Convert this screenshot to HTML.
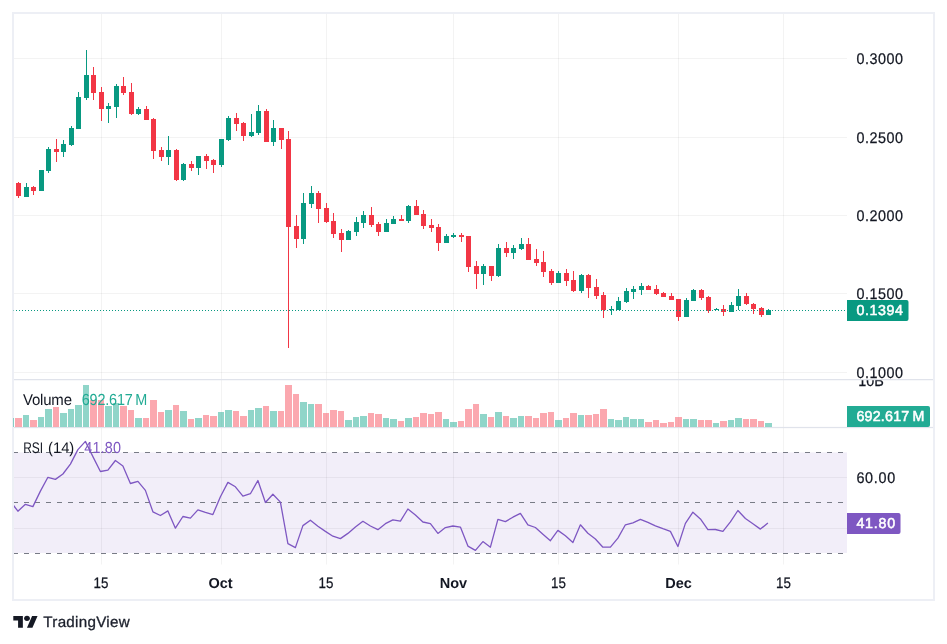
<!DOCTYPE html>
<html lang="en"><head><meta charset="utf-8"><title>TradingView chart</title>
<style>html,body{margin:0;padding:0;background:#fff}body{width:947px;height:644px;position:relative;overflow:hidden;font-family:"Liberation Sans",Arial,sans-serif}</style></head>
<body>
<svg width="947" height="644" viewBox="0 0 947 644" style="position:absolute;left:0;top:0">
<rect x="13.8" y="452.4" width="833.2" height="100.6" fill="#f2eef9"/>
<g><rect x="13.8" y="58" width="833.2" height="1" fill="rgba(10,20,20,0.052)"/><rect x="13.8" y="137" width="833.2" height="1" fill="rgba(10,20,20,0.052)"/><rect x="13.8" y="215" width="833.2" height="1" fill="rgba(10,20,20,0.052)"/><rect x="13.8" y="293" width="833.2" height="1" fill="rgba(10,20,20,0.052)"/><rect x="13.8" y="372" width="833.2" height="1" fill="rgba(10,20,20,0.052)"/><rect x="13.8" y="477" width="833.2" height="1" fill="rgba(10,20,20,0.052)"/><rect x="13.8" y="528" width="833.2" height="1" fill="rgba(10,20,20,0.052)"/><rect x="101" y="13.8" width="1" height="550.7" fill="rgba(10,20,20,0.052)"/><rect x="221" y="13.8" width="1" height="550.7" fill="rgba(10,20,20,0.052)"/><rect x="326" y="13.8" width="1" height="550.7" fill="rgba(10,20,20,0.052)"/><rect x="453" y="13.8" width="1" height="550.7" fill="rgba(10,20,20,0.052)"/><rect x="558" y="13.8" width="1" height="550.7" fill="rgba(10,20,20,0.052)"/><rect x="678" y="13.8" width="1" height="550.7" fill="rgba(10,20,20,0.052)"/><rect x="783" y="13.8" width="1" height="550.7" fill="rgba(10,20,20,0.052)"/></g>
<rect x="13.8" y="379" width="920" height="1.25" fill="#e0e3eb"/>
<rect x="13.8" y="426.9" width="920" height="1.25" fill="#e0e3eb"/>
<g shape-rendering="crispEdges"><rect x="15" y="418" width="7" height="9" fill="rgba(247,82,95,0.5)"/><rect x="23" y="415" width="6" height="12" fill="rgba(34,171,148,0.5)"/><rect x="30" y="420" width="7" height="7" fill="rgba(247,82,95,0.5)"/><rect x="38" y="417" width="6" height="10" fill="rgba(34,171,148,0.5)"/><rect x="45" y="409" width="7" height="18" fill="rgba(34,171,148,0.5)"/><rect x="53" y="407" width="6" height="20" fill="rgba(247,82,95,0.5)"/><rect x="60" y="413" width="7" height="14" fill="rgba(34,171,148,0.5)"/><rect x="68" y="409" width="6" height="18" fill="rgba(34,171,148,0.5)"/><rect x="75" y="405" width="7" height="22" fill="rgba(34,171,148,0.5)"/><rect x="83" y="385" width="6" height="42" fill="rgba(34,171,148,0.5)"/><rect x="90" y="400" width="7" height="27" fill="rgba(247,82,95,0.5)"/><rect x="98" y="400" width="6" height="27" fill="rgba(247,82,95,0.5)"/><rect x="105" y="406" width="7" height="21" fill="rgba(34,171,148,0.5)"/><rect x="113" y="403" width="6" height="24" fill="rgba(34,171,148,0.5)"/><rect x="120" y="406" width="7" height="21" fill="rgba(247,82,95,0.5)"/><rect x="128" y="410" width="6" height="17" fill="rgba(247,82,95,0.5)"/><rect x="135" y="418" width="7" height="9" fill="rgba(34,171,148,0.5)"/><rect x="143" y="418" width="6" height="9" fill="rgba(247,82,95,0.5)"/><rect x="150" y="400" width="7" height="27" fill="rgba(247,82,95,0.5)"/><rect x="158" y="412" width="6" height="15" fill="rgba(247,82,95,0.5)"/><rect x="165" y="410" width="7" height="17" fill="rgba(34,171,148,0.5)"/><rect x="173" y="405" width="6" height="22" fill="rgba(247,82,95,0.5)"/><rect x="180" y="411" width="7" height="16" fill="rgba(34,171,148,0.5)"/><rect x="188" y="419" width="6" height="8" fill="rgba(247,82,95,0.5)"/><rect x="195" y="418" width="7" height="9" fill="rgba(34,171,148,0.5)"/><rect x="203" y="415" width="6" height="12" fill="rgba(247,82,95,0.5)"/><rect x="210" y="416" width="7" height="11" fill="rgba(247,82,95,0.5)"/><rect x="218" y="412" width="6" height="15" fill="rgba(34,171,148,0.5)"/><rect x="225" y="410" width="7" height="17" fill="rgba(34,171,148,0.5)"/><rect x="233" y="411" width="6" height="16" fill="rgba(247,82,95,0.5)"/><rect x="240" y="416" width="7" height="11" fill="rgba(247,82,95,0.5)"/><rect x="248" y="410" width="6" height="17" fill="rgba(34,171,148,0.5)"/><rect x="255" y="408" width="7" height="19" fill="rgba(34,171,148,0.5)"/><rect x="263" y="406" width="6" height="21" fill="rgba(247,82,95,0.5)"/><rect x="270" y="411" width="7" height="16" fill="rgba(34,171,148,0.5)"/><rect x="278" y="411" width="6" height="16" fill="rgba(247,82,95,0.5)"/><rect x="285" y="385" width="7" height="42" fill="rgba(247,82,95,0.5)"/><rect x="293" y="394" width="6" height="33" fill="rgba(247,82,95,0.5)"/><rect x="300" y="402" width="7" height="25" fill="rgba(34,171,148,0.5)"/><rect x="308" y="404" width="6" height="23" fill="rgba(34,171,148,0.5)"/><rect x="315" y="404" width="7" height="23" fill="rgba(247,82,95,0.5)"/><rect x="323" y="413" width="6" height="14" fill="rgba(247,82,95,0.5)"/><rect x="330" y="410" width="7" height="17" fill="rgba(247,82,95,0.5)"/><rect x="338" y="411" width="6" height="16" fill="rgba(247,82,95,0.5)"/><rect x="345" y="420" width="7" height="7" fill="rgba(34,171,148,0.5)"/><rect x="353" y="417" width="6" height="10" fill="rgba(34,171,148,0.5)"/><rect x="360" y="416" width="7" height="11" fill="rgba(34,171,148,0.5)"/><rect x="368" y="413" width="6" height="14" fill="rgba(247,82,95,0.5)"/><rect x="375" y="414" width="7" height="13" fill="rgba(247,82,95,0.5)"/><rect x="383" y="418" width="6" height="9" fill="rgba(34,171,148,0.5)"/><rect x="390" y="419" width="7" height="8" fill="rgba(34,171,148,0.5)"/><rect x="398" y="421" width="6" height="6" fill="rgba(247,82,95,0.5)"/><rect x="405" y="418" width="7" height="9" fill="rgba(34,171,148,0.5)"/><rect x="413" y="417" width="6" height="10" fill="rgba(247,82,95,0.5)"/><rect x="420" y="413" width="7" height="14" fill="rgba(247,82,95,0.5)"/><rect x="428" y="414" width="6" height="13" fill="rgba(247,82,95,0.5)"/><rect x="435" y="412" width="7" height="15" fill="rgba(247,82,95,0.5)"/><rect x="443" y="419" width="6" height="8" fill="rgba(34,171,148,0.5)"/><rect x="450" y="422" width="7" height="5" fill="rgba(34,171,148,0.5)"/><rect x="458" y="421" width="6" height="6" fill="rgba(247,82,95,0.5)"/><rect x="465" y="409" width="7" height="18" fill="rgba(247,82,95,0.5)"/><rect x="473" y="404" width="6" height="23" fill="rgba(247,82,95,0.5)"/><rect x="480" y="414" width="7" height="13" fill="rgba(34,171,148,0.5)"/><rect x="488" y="417" width="6" height="10" fill="rgba(247,82,95,0.5)"/><rect x="495" y="412" width="7" height="15" fill="rgba(34,171,148,0.5)"/><rect x="503" y="416" width="6" height="11" fill="rgba(247,82,95,0.5)"/><rect x="510" y="418" width="7" height="9" fill="rgba(34,171,148,0.5)"/><rect x="518" y="416" width="6" height="11" fill="rgba(34,171,148,0.5)"/><rect x="525" y="416" width="7" height="11" fill="rgba(247,82,95,0.5)"/><rect x="533" y="418" width="6" height="9" fill="rgba(247,82,95,0.5)"/><rect x="540" y="413" width="7" height="14" fill="rgba(247,82,95,0.5)"/><rect x="548" y="412" width="6" height="15" fill="rgba(247,82,95,0.5)"/><rect x="555" y="420" width="7" height="7" fill="rgba(34,171,148,0.5)"/><rect x="563" y="418" width="6" height="9" fill="rgba(247,82,95,0.5)"/><rect x="570" y="413" width="7" height="14" fill="rgba(247,82,95,0.5)"/><rect x="578" y="415" width="6" height="12" fill="rgba(34,171,148,0.5)"/><rect x="585" y="415" width="7" height="12" fill="rgba(247,82,95,0.5)"/><rect x="593" y="414" width="6" height="13" fill="rgba(247,82,95,0.5)"/><rect x="600" y="409" width="7" height="18" fill="rgba(247,82,95,0.5)"/><rect x="608" y="419" width="6" height="8" fill="rgba(34,171,148,0.5)"/><rect x="615" y="420" width="7" height="7" fill="rgba(34,171,148,0.5)"/><rect x="623" y="417" width="6" height="10" fill="rgba(34,171,148,0.5)"/><rect x="630" y="419" width="7" height="8" fill="rgba(34,171,148,0.5)"/><rect x="638" y="419" width="6" height="8" fill="rgba(34,171,148,0.5)"/><rect x="645" y="422" width="7" height="5" fill="rgba(247,82,95,0.5)"/><rect x="653" y="420" width="6" height="7" fill="rgba(247,82,95,0.5)"/><rect x="660" y="423" width="7" height="4" fill="rgba(247,82,95,0.5)"/><rect x="668" y="422" width="6" height="5" fill="rgba(247,82,95,0.5)"/><rect x="675" y="417" width="7" height="10" fill="rgba(247,82,95,0.5)"/><rect x="683" y="419" width="6" height="8" fill="rgba(34,171,148,0.5)"/><rect x="690" y="419" width="7" height="8" fill="rgba(34,171,148,0.5)"/><rect x="698" y="420" width="6" height="7" fill="rgba(247,82,95,0.5)"/><rect x="705" y="420" width="7" height="7" fill="rgba(247,82,95,0.5)"/><rect x="713" y="423" width="6" height="4" fill="rgba(34,171,148,0.5)"/><rect x="720" y="421" width="7" height="6" fill="rgba(247,82,95,0.5)"/><rect x="728" y="420" width="6" height="7" fill="rgba(34,171,148,0.5)"/><rect x="735" y="418" width="7" height="9" fill="rgba(34,171,148,0.5)"/><rect x="743" y="419" width="6" height="8" fill="rgba(247,82,95,0.5)"/><rect x="750" y="419" width="7" height="8" fill="rgba(247,82,95,0.5)"/><rect x="758" y="421" width="6" height="6" fill="rgba(247,82,95,0.5)"/><rect x="765" y="423" width="7" height="4" fill="rgba(34,171,148,0.5)"/></g>
<g shape-rendering="crispEdges"><rect x="18" y="182" width="1" height="16" fill="#f23645"/><rect x="16" y="183" width="5" height="13" fill="#f23645"/><rect x="26" y="183" width="1" height="14" fill="#089981"/><rect x="24" y="187" width="5" height="10" fill="#089981"/><rect x="33" y="186" width="1" height="9" fill="#f23645"/><rect x="31" y="187" width="5" height="4" fill="#f23645"/><rect x="41" y="170" width="1" height="21" fill="#089981"/><rect x="39" y="170" width="5" height="21" fill="#089981"/><rect x="48" y="147" width="1" height="26" fill="#089981"/><rect x="46" y="149" width="5" height="22" fill="#089981"/><rect x="56" y="139" width="1" height="23" fill="#f23645"/><rect x="54" y="149" width="5" height="3" fill="#f23645"/><rect x="63" y="140" width="1" height="17" fill="#089981"/><rect x="61" y="144" width="5" height="8" fill="#089981"/><rect x="71" y="126" width="1" height="20" fill="#089981"/><rect x="69" y="128" width="5" height="17" fill="#089981"/><rect x="78" y="92" width="1" height="37" fill="#089981"/><rect x="76" y="97" width="5" height="32" fill="#089981"/><rect x="86" y="50" width="1" height="50" fill="#089981"/><rect x="84" y="75" width="5" height="23" fill="#089981"/><rect x="93" y="67" width="1" height="33" fill="#f23645"/><rect x="91" y="75" width="5" height="18" fill="#f23645"/><rect x="101" y="87" width="1" height="34" fill="#f23645"/><rect x="99" y="92" width="5" height="17" fill="#f23645"/><rect x="108" y="103" width="1" height="20" fill="#089981"/><rect x="106" y="106" width="5" height="3" fill="#089981"/><rect x="116" y="84" width="1" height="34" fill="#089981"/><rect x="114" y="86" width="5" height="21" fill="#089981"/><rect x="123" y="77" width="1" height="18" fill="#f23645"/><rect x="121" y="86" width="5" height="7" fill="#f23645"/><rect x="131" y="83" width="1" height="32" fill="#f23645"/><rect x="129" y="92" width="5" height="22" fill="#f23645"/><rect x="138" y="107" width="1" height="8" fill="#089981"/><rect x="136" y="109" width="5" height="5" fill="#089981"/><rect x="146" y="106" width="1" height="14" fill="#f23645"/><rect x="144" y="109" width="5" height="11" fill="#f23645"/><rect x="153" y="118" width="1" height="41" fill="#f23645"/><rect x="151" y="119" width="5" height="32" fill="#f23645"/><rect x="161" y="147" width="1" height="14" fill="#f23645"/><rect x="159" y="150" width="5" height="7" fill="#f23645"/><rect x="168" y="136" width="1" height="29" fill="#089981"/><rect x="166" y="150" width="5" height="7" fill="#089981"/><rect x="176" y="149" width="1" height="32" fill="#f23645"/><rect x="174" y="150" width="5" height="30" fill="#f23645"/><rect x="183" y="163" width="1" height="18" fill="#089981"/><rect x="181" y="164" width="5" height="16" fill="#089981"/><rect x="191" y="161" width="1" height="10" fill="#f23645"/><rect x="189" y="164" width="5" height="4" fill="#f23645"/><rect x="198" y="156" width="1" height="19" fill="#089981"/><rect x="196" y="156" width="5" height="12" fill="#089981"/><rect x="206" y="154" width="1" height="15" fill="#f23645"/><rect x="204" y="156" width="5" height="5" fill="#f23645"/><rect x="213" y="159" width="1" height="14" fill="#f23645"/><rect x="211" y="160" width="5" height="5" fill="#f23645"/><rect x="221" y="139" width="1" height="28" fill="#089981"/><rect x="219" y="139" width="5" height="26" fill="#089981"/><rect x="228" y="116" width="1" height="25" fill="#089981"/><rect x="226" y="118" width="5" height="22" fill="#089981"/><rect x="236" y="113" width="1" height="18" fill="#f23645"/><rect x="234" y="118" width="5" height="6" fill="#f23645"/><rect x="243" y="122" width="1" height="19" fill="#f23645"/><rect x="241" y="123" width="5" height="13" fill="#f23645"/><rect x="251" y="114" width="1" height="23" fill="#089981"/><rect x="249" y="132" width="5" height="4" fill="#089981"/><rect x="258" y="105" width="1" height="30" fill="#089981"/><rect x="256" y="111" width="5" height="22" fill="#089981"/><rect x="266" y="109" width="1" height="33" fill="#f23645"/><rect x="264" y="111" width="5" height="31" fill="#f23645"/><rect x="273" y="120" width="1" height="26" fill="#089981"/><rect x="271" y="128" width="5" height="14" fill="#089981"/><rect x="281" y="128" width="1" height="21" fill="#f23645"/><rect x="279" y="128" width="5" height="12" fill="#f23645"/><rect x="288" y="131" width="1" height="217" fill="#f23645"/><rect x="286" y="139" width="5" height="88" fill="#f23645"/><rect x="296" y="215" width="1" height="33" fill="#f23645"/><rect x="294" y="226" width="5" height="13" fill="#f23645"/><rect x="303" y="193" width="1" height="51" fill="#089981"/><rect x="301" y="203" width="5" height="36" fill="#089981"/><rect x="311" y="186" width="1" height="22" fill="#089981"/><rect x="309" y="193" width="5" height="11" fill="#089981"/><rect x="318" y="191" width="1" height="32" fill="#f23645"/><rect x="316" y="193" width="5" height="16" fill="#f23645"/><rect x="326" y="203" width="1" height="20" fill="#f23645"/><rect x="324" y="208" width="5" height="14" fill="#f23645"/><rect x="333" y="213" width="1" height="25" fill="#f23645"/><rect x="331" y="221" width="5" height="13" fill="#f23645"/><rect x="341" y="229" width="1" height="23" fill="#f23645"/><rect x="339" y="233" width="5" height="7" fill="#f23645"/><rect x="348" y="230" width="1" height="10" fill="#089981"/><rect x="346" y="231" width="5" height="9" fill="#089981"/><rect x="356" y="217" width="1" height="19" fill="#089981"/><rect x="354" y="222" width="5" height="10" fill="#089981"/><rect x="363" y="211" width="1" height="17" fill="#089981"/><rect x="361" y="215" width="5" height="8" fill="#089981"/><rect x="371" y="207" width="1" height="20" fill="#f23645"/><rect x="369" y="215" width="5" height="10" fill="#f23645"/><rect x="378" y="222" width="1" height="14" fill="#f23645"/><rect x="376" y="224" width="5" height="8" fill="#f23645"/><rect x="386" y="219" width="1" height="13" fill="#089981"/><rect x="384" y="223" width="5" height="9" fill="#089981"/><rect x="393" y="216" width="1" height="8" fill="#089981"/><rect x="391" y="219" width="5" height="5" fill="#089981"/><rect x="401" y="215" width="1" height="6" fill="#f23645"/><rect x="399" y="219" width="5" height="2" fill="#f23645"/><rect x="408" y="205" width="1" height="18" fill="#089981"/><rect x="406" y="206" width="5" height="15" fill="#089981"/><rect x="416" y="200" width="1" height="15" fill="#f23645"/><rect x="414" y="206" width="5" height="9" fill="#f23645"/><rect x="423" y="210" width="1" height="19" fill="#f23645"/><rect x="421" y="214" width="5" height="12" fill="#f23645"/><rect x="431" y="219" width="1" height="13" fill="#f23645"/><rect x="429" y="225" width="5" height="3" fill="#f23645"/><rect x="438" y="224" width="1" height="27" fill="#f23645"/><rect x="436" y="227" width="5" height="16" fill="#f23645"/><rect x="446" y="234" width="1" height="9" fill="#089981"/><rect x="444" y="236" width="5" height="7" fill="#089981"/><rect x="453" y="233" width="1" height="5" fill="#089981"/><rect x="451" y="235" width="5" height="2" fill="#089981"/><rect x="461" y="233" width="1" height="9" fill="#f23645"/><rect x="459" y="235" width="5" height="2" fill="#f23645"/><rect x="468" y="236" width="1" height="36" fill="#f23645"/><rect x="466" y="236" width="5" height="31" fill="#f23645"/><rect x="476" y="261" width="1" height="28" fill="#f23645"/><rect x="474" y="266" width="5" height="8" fill="#f23645"/><rect x="483" y="264" width="1" height="21" fill="#089981"/><rect x="481" y="266" width="5" height="8" fill="#089981"/><rect x="491" y="266" width="1" height="15" fill="#f23645"/><rect x="489" y="266" width="5" height="10" fill="#f23645"/><rect x="498" y="244" width="1" height="33" fill="#089981"/><rect x="496" y="248" width="5" height="28" fill="#089981"/><rect x="506" y="242" width="1" height="15" fill="#f23645"/><rect x="504" y="248" width="5" height="5" fill="#f23645"/><rect x="513" y="245" width="1" height="14" fill="#089981"/><rect x="511" y="248" width="5" height="5" fill="#089981"/><rect x="521" y="238" width="1" height="12" fill="#089981"/><rect x="519" y="244" width="5" height="5" fill="#089981"/><rect x="528" y="238" width="1" height="22" fill="#f23645"/><rect x="526" y="244" width="5" height="16" fill="#f23645"/><rect x="536" y="249" width="1" height="17" fill="#f23645"/><rect x="534" y="259" width="5" height="4" fill="#f23645"/><rect x="543" y="251" width="1" height="26" fill="#f23645"/><rect x="541" y="262" width="5" height="10" fill="#f23645"/><rect x="551" y="269" width="1" height="16" fill="#f23645"/><rect x="549" y="271" width="5" height="12" fill="#f23645"/><rect x="558" y="271" width="1" height="12" fill="#089981"/><rect x="556" y="273" width="5" height="10" fill="#089981"/><rect x="566" y="269" width="1" height="17" fill="#f23645"/><rect x="564" y="273" width="5" height="8" fill="#f23645"/><rect x="573" y="271" width="1" height="21" fill="#f23645"/><rect x="571" y="280" width="5" height="11" fill="#f23645"/><rect x="581" y="274" width="1" height="19" fill="#089981"/><rect x="579" y="275" width="5" height="16" fill="#089981"/><rect x="588" y="274" width="1" height="24" fill="#f23645"/><rect x="586" y="275" width="5" height="13" fill="#f23645"/><rect x="596" y="279" width="1" height="20" fill="#f23645"/><rect x="594" y="287" width="5" height="9" fill="#f23645"/><rect x="603" y="292" width="1" height="26" fill="#f23645"/><rect x="601" y="295" width="5" height="15" fill="#f23645"/><rect x="611" y="306" width="1" height="9" fill="#089981"/><rect x="609" y="309" width="5" height="1" fill="#089981"/><rect x="618" y="297" width="1" height="13" fill="#089981"/><rect x="616" y="301" width="5" height="9" fill="#089981"/><rect x="626" y="288" width="1" height="15" fill="#089981"/><rect x="624" y="291" width="5" height="11" fill="#089981"/><rect x="633" y="286" width="1" height="13" fill="#089981"/><rect x="631" y="289" width="5" height="3" fill="#089981"/><rect x="641" y="283" width="1" height="12" fill="#089981"/><rect x="639" y="286" width="5" height="4" fill="#089981"/><rect x="648" y="285" width="1" height="5" fill="#f23645"/><rect x="646" y="286" width="5" height="4" fill="#f23645"/><rect x="656" y="285" width="1" height="10" fill="#f23645"/><rect x="654" y="289" width="5" height="5" fill="#f23645"/><rect x="663" y="292" width="1" height="5" fill="#f23645"/><rect x="661" y="293" width="5" height="4" fill="#f23645"/><rect x="671" y="293" width="1" height="7" fill="#f23645"/><rect x="669" y="296" width="5" height="4" fill="#f23645"/><rect x="678" y="299" width="1" height="22" fill="#f23645"/><rect x="676" y="299" width="5" height="18" fill="#f23645"/><rect x="686" y="298" width="1" height="19" fill="#089981"/><rect x="684" y="300" width="5" height="17" fill="#089981"/><rect x="693" y="289" width="1" height="12" fill="#089981"/><rect x="691" y="290" width="5" height="11" fill="#089981"/><rect x="701" y="289" width="1" height="11" fill="#f23645"/><rect x="699" y="290" width="5" height="8" fill="#f23645"/><rect x="708" y="296" width="1" height="17" fill="#f23645"/><rect x="706" y="297" width="5" height="14" fill="#f23645"/><rect x="716" y="308" width="1" height="2" fill="#089981"/><rect x="714" y="309" width="5" height="1" fill="#089981"/><rect x="723" y="305" width="1" height="11" fill="#f23645"/><rect x="721" y="309" width="5" height="3" fill="#f23645"/><rect x="731" y="302" width="1" height="10" fill="#089981"/><rect x="729" y="305" width="5" height="7" fill="#089981"/><rect x="738" y="289" width="1" height="21" fill="#089981"/><rect x="736" y="296" width="5" height="10" fill="#089981"/><rect x="746" y="293" width="1" height="12" fill="#f23645"/><rect x="744" y="296" width="5" height="8" fill="#f23645"/><rect x="753" y="303" width="1" height="11" fill="#f23645"/><rect x="751" y="304" width="5" height="5" fill="#f23645"/><rect x="761" y="307" width="1" height="10" fill="#f23645"/><rect x="759" y="308" width="5" height="7" fill="#f23645"/><rect x="768" y="309" width="1" height="6" fill="#089981"/><rect x="766" y="310" width="5" height="5" fill="#089981"/></g>
<path d="M16 310.5h1M19 310.5h1M22 310.5h1M25 310.5h1M28 310.5h1M31 310.5h1M34 310.5h1M37 310.5h1M40 310.5h1M43 310.5h1M46 310.5h1M49 310.5h1M52 310.5h1M55 310.5h1M58 310.5h1M61 310.5h1M64 310.5h1M67 310.5h1M70 310.5h1M73 310.5h1M76 310.5h1M79 310.5h1M82 310.5h1M85 310.5h1M88 310.5h1M91 310.5h1M94 310.5h1M97 310.5h1M100 310.5h1M103 310.5h1M106 310.5h1M109 310.5h1M112 310.5h1M115 310.5h1M118 310.5h1M121 310.5h1M124 310.5h1M127 310.5h1M130 310.5h1M133 310.5h1M136 310.5h1M139 310.5h1M142 310.5h1M145 310.5h1M148 310.5h1M151 310.5h1M154 310.5h1M157 310.5h1M160 310.5h1M163 310.5h1M166 310.5h1M169 310.5h1M172 310.5h1M175 310.5h1M178 310.5h1M181 310.5h1M184 310.5h1M187 310.5h1M190 310.5h1M193 310.5h1M196 310.5h1M199 310.5h1M202 310.5h1M205 310.5h1M208 310.5h1M211 310.5h1M214 310.5h1M217 310.5h1M220 310.5h1M223 310.5h1M226 310.5h1M229 310.5h1M232 310.5h1M235 310.5h1M238 310.5h1M241 310.5h1M244 310.5h1M247 310.5h1M250 310.5h1M253 310.5h1M256 310.5h1M259 310.5h1M262 310.5h1M265 310.5h1M268 310.5h1M271 310.5h1M274 310.5h1M277 310.5h1M280 310.5h1M283 310.5h1M286 310.5h1M289 310.5h1M292 310.5h1M295 310.5h1M298 310.5h1M301 310.5h1M304 310.5h1M307 310.5h1M310 310.5h1M313 310.5h1M316 310.5h1M319 310.5h1M322 310.5h1M325 310.5h1M328 310.5h1M331 310.5h1M334 310.5h1M337 310.5h1M340 310.5h1M343 310.5h1M346 310.5h1M349 310.5h1M352 310.5h1M355 310.5h1M358 310.5h1M361 310.5h1M364 310.5h1M367 310.5h1M370 310.5h1M373 310.5h1M376 310.5h1M379 310.5h1M382 310.5h1M385 310.5h1M388 310.5h1M391 310.5h1M394 310.5h1M397 310.5h1M400 310.5h1M403 310.5h1M406 310.5h1M409 310.5h1M412 310.5h1M415 310.5h1M418 310.5h1M421 310.5h1M424 310.5h1M427 310.5h1M430 310.5h1M433 310.5h1M436 310.5h1M439 310.5h1M442 310.5h1M445 310.5h1M448 310.5h1M451 310.5h1M454 310.5h1M457 310.5h1M460 310.5h1M463 310.5h1M466 310.5h1M469 310.5h1M472 310.5h1M475 310.5h1M478 310.5h1M481 310.5h1M484 310.5h1M487 310.5h1M490 310.5h1M493 310.5h1M496 310.5h1M499 310.5h1M502 310.5h1M505 310.5h1M508 310.5h1M511 310.5h1M514 310.5h1M517 310.5h1M520 310.5h1M523 310.5h1M526 310.5h1M529 310.5h1M532 310.5h1M535 310.5h1M538 310.5h1M541 310.5h1M544 310.5h1M547 310.5h1M550 310.5h1M553 310.5h1M556 310.5h1M559 310.5h1M562 310.5h1M565 310.5h1M568 310.5h1M571 310.5h1M574 310.5h1M577 310.5h1M580 310.5h1M583 310.5h1M586 310.5h1M589 310.5h1M592 310.5h1M595 310.5h1M598 310.5h1M601 310.5h1M604 310.5h1M607 310.5h1M610 310.5h1M613 310.5h1M616 310.5h1M619 310.5h1M622 310.5h1M625 310.5h1M628 310.5h1M631 310.5h1M634 310.5h1M637 310.5h1M640 310.5h1M643 310.5h1M646 310.5h1M649 310.5h1M652 310.5h1M655 310.5h1M658 310.5h1M661 310.5h1M664 310.5h1M667 310.5h1M670 310.5h1M673 310.5h1M676 310.5h1M679 310.5h1M682 310.5h1M685 310.5h1M688 310.5h1M691 310.5h1M694 310.5h1M697 310.5h1M700 310.5h1M703 310.5h1M706 310.5h1M709 310.5h1M712 310.5h1M715 310.5h1M718 310.5h1M721 310.5h1M724 310.5h1M727 310.5h1M730 310.5h1M733 310.5h1M736 310.5h1M739 310.5h1M742 310.5h1M745 310.5h1M748 310.5h1M751 310.5h1M754 310.5h1M757 310.5h1M760 310.5h1M763 310.5h1M766 310.5h1M769 310.5h1M772 310.5h1M775 310.5h1M778 310.5h1M781 310.5h1M784 310.5h1M787 310.5h1M790 310.5h1M793 310.5h1M796 310.5h1M799 310.5h1M802 310.5h1M805 310.5h1M808 310.5h1M811 310.5h1M814 310.5h1M817 310.5h1M820 310.5h1M823 310.5h1M826 310.5h1M829 310.5h1M832 310.5h1M835 310.5h1M838 310.5h1M841 310.5h1M844 310.5h1" stroke="#089981" stroke-width="1.1" fill="none"/>
<path d="M13 452.5H847" stroke="#787b86" stroke-width="1.05" stroke-dasharray="5 6" fill="none"/>
<path d="M13 502.5H847" stroke="#787b86" stroke-width="1.05" stroke-dasharray="5 6" fill="none"/>
<path d="M13 553.5H847" stroke="#787b86" stroke-width="1.05" stroke-dasharray="5 6" fill="none"/>
<polyline fill="none" stroke="#7e57c2" stroke-width="1.3" stroke-linejoin="round" points="13.2,505.0 17.9,511.2 25.4,504.3 32.9,506.6 40.4,491.1 47.9,477.3 55.4,479.4 62.9,474.0 70.4,464.1 77.9,449.6 85.4,441.4 92.9,456.6 100.4,471.5 107.9,470.2 115.4,460.5 122.9,466.0 130.4,483.5 137.9,481.4 145.4,490.4 152.9,511.8 160.4,515.5 167.9,510.9 175.4,528.2 182.9,516.5 190.4,518.1 197.9,509.9 205.4,512.4 212.9,514.6 220.4,496.7 227.9,482.4 235.4,486.8 242.9,496.1 250.4,493.7 257.9,480.5 265.4,502.5 272.9,494.3 280.4,502.1 287.9,543.7 295.4,547.6 302.9,525.6 310.4,520.2 317.9,526.3 325.4,531.4 332.9,536.2 340.4,538.6 347.9,533.4 355.4,526.9 362.9,521.3 370.4,526.0 377.9,529.7 385.4,523.7 392.9,519.8 400.4,521.1 407.9,509.0 415.4,515.0 422.9,522.0 430.4,523.7 437.9,533.4 445.4,527.6 452.9,526.0 460.4,527.1 467.9,546.1 475.4,550.4 482.9,541.6 490.4,547.2 497.9,519.3 505.4,521.6 512.9,517.2 520.4,513.3 527.9,524.8 535.4,527.5 542.9,534.2 550.4,540.7 557.9,530.4 565.4,535.7 572.9,542.5 580.4,524.8 587.9,533.2 595.4,539.0 602.9,547.2 610.4,547.2 617.9,538.1 625.4,524.8 632.9,522.8 640.4,519.3 647.9,522.4 655.4,525.8 662.9,528.7 670.4,531.4 677.9,546.5 685.4,523.4 692.9,512.2 700.4,518.9 707.9,529.7 715.4,529.5 722.9,531.4 730.4,521.9 737.9,510.5 745.4,518.5 752.9,523.7 760.4,529.1 767.9,523.0"/>
<rect x="13" y="13" width="921" height="587" fill="none" stroke="#edeff5" stroke-width="2" shape-rendering="crispEdges"/>
<rect x="13" y="418" width="1" height="9" fill="rgba(34,171,148,0.5)"/>
<rect x="13" y="310" width="1" height="1" fill="#089981" opacity="0.45"/>
<path d="M847 300h59.5a2 2 0 0 1 2 2v17a2 2 0 0 1-2 2H847z" fill="#089981"/>
<path d="M847 406h81a2 2 0 0 1 2 2v17a2 2 0 0 1-2 2H847z" fill="#22ab94"/>
<path d="M847 513h51.5a2 2 0 0 1 2 2v17a2 2 0 0 1-2 2H847z" fill="#7e57c2"/>
<g text-rendering="geometricPrecision" font-family="'Liberation Sans', Arial, sans-serif">
<text transform="translate(856.4,63.7) scale(0.935,1)" fill="#131722" font-size="15.4" textLength="49.73" lengthAdjust="spacing" stroke="#131722" stroke-width="0.25">0.3000</text>
<text transform="translate(856.4,142.7) scale(0.935,1)" fill="#131722" font-size="15.4" textLength="49.73" lengthAdjust="spacing" stroke="#131722" stroke-width="0.25">0.2500</text>
<text transform="translate(856.4,220.7) scale(0.935,1)" fill="#131722" font-size="15.4" textLength="49.73" lengthAdjust="spacing" stroke="#131722" stroke-width="0.25">0.2000</text>
<text transform="translate(856.4,298.7) scale(0.935,1)" fill="#131722" font-size="15.4" textLength="49.73" lengthAdjust="spacing" stroke="#131722" stroke-width="0.25">0.1500</text>
<text transform="translate(856.4,377.7) scale(0.935,1)" fill="#131722" font-size="15.4" textLength="49.73" lengthAdjust="spacing" stroke="#131722" stroke-width="0.25">0.1000</text>
<clipPath id="c10"><rect x="847" y="380.2" width="86" height="20"/></clipPath>
<g clip-path="url(#c10)">
<text transform="translate(858.2,386.1) scale(0.935,1)" fill="#131722" font-size="15.4" stroke="#131722" stroke-width="0.25">10B</text>
</g>
<text transform="translate(856.4,482.7) scale(0.935,1)" fill="#131722" font-size="15.4" textLength="41.50" lengthAdjust="spacing" stroke="#131722" stroke-width="0.25">60.00</text>
<text transform="translate(856.4,315.4) scale(0.99,1)" fill="#fff" font-size="14.4" textLength="46.97" lengthAdjust="spacing" stroke="#fff" stroke-width="0.55">0.1394</text>
<text transform="translate(856.4,421.1) scale(0.99,1)" fill="#fff" font-size="14.4" textLength="68.69" lengthAdjust="spacing" stroke="#fff" stroke-width="0.55">692.617&#8201;M</text>
<text transform="translate(856.4,528.2) scale(0.99,1)" fill="#fff" font-size="14.4" textLength="39.19" lengthAdjust="spacing" stroke="#fff" stroke-width="0.55">41.80</text>
<text transform="translate(23.0,404.8) scale(0.96,1)" fill="#131722" font-size="15.6" textLength="51.04" lengthAdjust="spacing">Volume</text>
<text transform="translate(81.7,404.9) scale(0.9,1)" fill="#22ab94" font-size="16" textLength="72.89" lengthAdjust="spacing">692.617&#8201;M</text>
<text transform="translate(23.2,452.5) scale(0.775,1)" fill="#131722" font-size="15.4">RSI</text>
<text transform="translate(48.0,452.5) scale(0.96,1)" fill="#131722" font-size="15.4">(14)</text>
<text transform="translate(84.2,452.6) scale(0.9,1)" fill="#7e57c2" font-size="16" textLength="40.89" lengthAdjust="spacing">41.80</text>
<text transform="translate(101.0,587.7) scale(0.88,1)" fill="#131722" font-size="15.2" text-anchor="middle" stroke="#131722" stroke-width="0.25">15</text>
<text x="220.6" y="587.8" fill="#131722" font-size="14.5" font-weight="700" text-anchor="middle">Oct</text>
<text transform="translate(326.0,587.7) scale(0.88,1)" fill="#131722" font-size="15.2" text-anchor="middle" stroke="#131722" stroke-width="0.25">15</text>
<text x="453.4" y="587.8" fill="#131722" font-size="14.5" font-weight="700" text-anchor="middle">Nov</text>
<text transform="translate(558.4,587.7) scale(0.88,1)" fill="#131722" font-size="15.2" text-anchor="middle" stroke="#131722" stroke-width="0.25">15</text>
<text x="678.6" y="587.8" fill="#131722" font-size="14.5" font-weight="700" text-anchor="middle">Dec</text>
<text transform="translate(783.4,587.7) scale(0.88,1)" fill="#131722" font-size="15.2" text-anchor="middle" stroke="#131722" stroke-width="0.25">15</text>
<text x="43.3" y="627.3" fill="#1c202c" font-size="15.2" textLength="86.40" lengthAdjust="spacing" stroke="#1c202c" stroke-width="0.3">TradingView</text>
</g>
<g transform="translate(13.3,613.45) scale(0.683,0.648)" fill="#151924"><path d="M14 22H7V11H0V4h14v18zM28 22h-8l7.5-18h8L28 22z"/></g><ellipse cx="27.0" cy="618.3" rx="2.85" ry="2.65" fill="#151924"/>
</svg>
</body></html>
